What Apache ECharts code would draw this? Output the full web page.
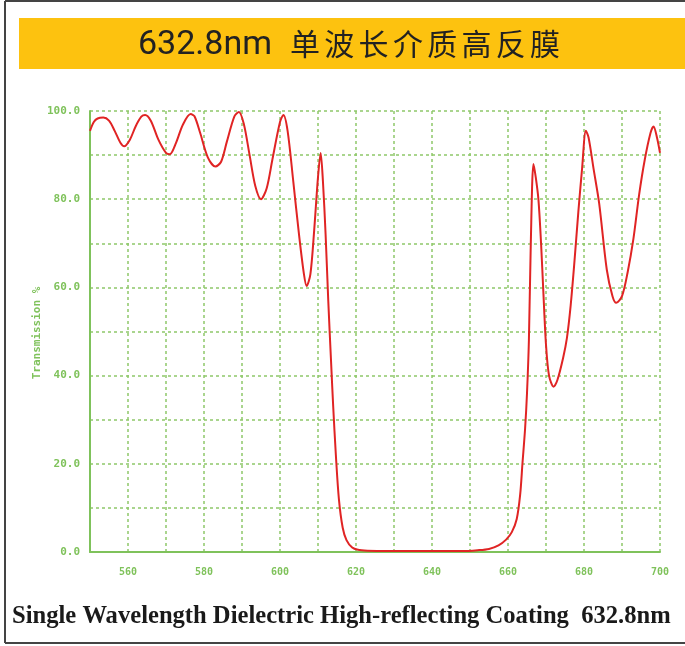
<!DOCTYPE html>
<html>
<head>
<meta charset="utf-8">
<script src="https://cdn.jsdelivr.net/npm/echarts@6/dist/echarts.min.js"></script>
<style>
  html, body { margin: 0; padding: 0; background: #fff; }
  #main { width: 685px; height: 646px; }
</style>
</head>
<body>
<div id="main"></div>
<script>
// 波长 (nm)
const wavelength = [
  550, 551, 552, 553.5, 555, 556.5, 558, 559, 560.5, 562, 563.5, 564.5, 566, 568, 570, 571,
  572.5, 574.5, 576.5, 577.5, 579, 581, 583, 584.5, 586, 588, 589.2, 590.5, 592, 593.5, 595,
  596.5, 598, 600, 600.9, 602, 603.5, 605, 606.3, 607, 608, 609, 610, 610.7, 611.3, 612,
  612.7, 613.5, 614, 614.7, 615.5, 616.5, 617.5, 619, 620.5, 623, 628, 640, 648, 652, 655,
  657.5, 659.5, 661, 662.3, 663.2, 663.8, 664.5, 665, 665.5, 666, 666.7, 667.3, 668, 668.7,
  669.3, 670, 670.8, 672, 673, 674.5, 675.5, 676.5, 677.5, 678.5, 679.5, 680.5, 681.2, 682.5,
  684, 686, 687.5, 688.5, 690, 691.5, 693, 694.5, 696, 697.5, 698.3, 699.2, 700
];
// 透过率 (%)
const transmission = [
  95.5, 97.5, 98.3, 98.5, 97.8, 95.5, 92.8, 92, 93.5, 96.5, 98.7, 99.1, 97.8, 93.5, 90.5, 90.2,
  92.5, 97, 99.3, 98.8, 95, 89.5, 87.4, 88.5, 93, 98.8, 99.8, 97, 90, 83, 80,
  82.5, 89, 97.5, 99.1, 95.5, 84, 72, 63, 60.3, 63, 73, 85, 90.5, 84, 72,
  57, 42, 33, 22, 12, 5.5, 2.7, 1, 0.5, 0.3, 0.2, 0.2, 0.2, 0.4, 0.7,
  1.5, 2.8, 4.5, 7.5, 13, 20, 28, 36, 48, 70, 88, 85, 80, 70,
  59, 47, 40, 37.5, 39, 44, 48.5, 56, 66, 77, 87, 95.5, 94, 87,
  79, 64, 58, 56.5, 58, 63.5, 71, 81, 89, 95, 96.5, 94, 90.5
];
const xLabels = [560, 580, 600, 620, 640, 660, 680, 700];
const yLabels = [0, 20, 40, 60, 80, 100];

const titleLatin = '632.8nm';
const titleCjk = '单波长介质高反膜';
const yName = 'Transmission %';
const footText = 'Single Wavelength Dielectric High-reflecting Coating  632.8nm';

const green = '#7fc25b';
const gridGreen = '#8fc86a';

const chart = echarts.init(document.getElementById('main'));

// 标题中文逐字排开（原图字距较宽）
const cjkChars = titleCjk.split('').map((ch, i) => ({
  type: 'text', x: 305 + i * 34.3, y: 44,
  style: {
    text: ch, fill: '#222', align: 'center', verticalAlign: 'middle',
    font: '30px "Noto Sans CJK SC", sans-serif'
  }
}));

const option = {
  backgroundColor: '#fff',
  animation: false,
  grid: { left: 90, right: 25, top: 111, bottom: 94 },
  graphic: [
    // 外框
    { type: 'line', shape: { x1: 5, y1: 1, x2: 685, y2: 1 }, style: { stroke: '#444', lineWidth: 2 } },
    { type: 'line', shape: { x1: 5, y1: 1, x2: 5, y2: 643 }, style: { stroke: '#444', lineWidth: 2 } },
    { type: 'line', shape: { x1: 5, y1: 643, x2: 685, y2: 643 }, style: { stroke: '#444', lineWidth: 2 } },
    // 标题黄条
    { type: 'rect', shape: { x: 19, y: 18, width: 666, height: 51 }, style: { fill: '#fdc20f' } },
    {
      type: 'text', x: 205, y: 45,
      style: {
        text: titleLatin, fill: '#222', align: 'center', verticalAlign: 'middle',
        font: '34px "Liberation Sans Narrow", "Roboto", sans-serif'
      }
    },
    ...cjkChars,
    // y轴名称
    {
      type: 'text', x: 37, y: 333, rotation: Math.PI / 2,
      style: {
        text: yName, fill: green, align: 'center', verticalAlign: 'middle',
        font: 'bold 11px "DejaVu Sans Mono", monospace'
      }
    },
    {
      type: 'text', x: 12, y: 617,
      style: {
        text: footText, fill: '#1a1a1a', align: 'left', verticalAlign: 'middle',
        font: 'bold 24.6px "Liberation Serif", "DejaVu Serif", serif'
      }
    }
  ],
  xAxis: {
    type: 'value',
    min: 550,
    max: 700,
    interval: 10,
    axisLine: { show: true, onZero: false, lineStyle: { color: green, width: 2 } },
    axisTick: { show: false },
    axisLabel: {
      color: green, fontSize: 10, fontWeight: 'bold', fontFamily: 'DejaVu Sans Mono', margin: 15,
      formatter: v => xLabels.indexOf(v) >= 0 ? String(v) : ''
    },
    splitLine: { show: true, lineStyle: { color: gridGreen, type: [3, 3], width: 1.5 } }
  },
  yAxis: {
    type: 'value',
    min: 0,
    max: 100,
    interval: 10,
    axisLine: { show: true, lineStyle: { color: green, width: 2 } },
    axisTick: { show: false },
    axisLabel: {
      color: green, fontSize: 11, fontWeight: 'bold', fontFamily: 'DejaVu Sans Mono', margin: 10,
      formatter: v => yLabels.indexOf(v) >= 0 ? v.toFixed(1) : ''
    },
    splitLine: { show: true, lineStyle: { color: gridGreen, type: [3, 3], width: 1.5 } }
  },
  series: [{
    type: 'line',
    data: wavelength.map((w, i) => [w, transmission[i]]),
    smooth: 0.3,
    showSymbol: false,
    lineStyle: { color: '#e02424', width: 2 }
  }]
};

chart.setOption(option);
</script>
</body>
</html>
